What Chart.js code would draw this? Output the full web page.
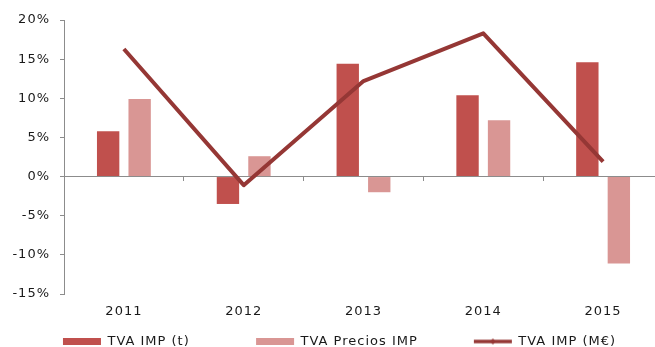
<!DOCTYPE html>
<html>
<head>
<meta charset="utf-8">
<script src="https://cdn.jsdelivr.net/npm/chart.js@4"></script>
<style>
    html, body { margin: 0; padding: 0; background: #fff; overflow: hidden; }
    #wrap { position: relative; width: 663px; height: 358px; }
</style>
</head>
<body>
<div id="wrap"><canvas id="impChart"></canvas></div>
<script>
// Years and rates (%)
const years = ['2011', '2012', '2013', '2014', '2015'];
const tvaImpT = [5.8, -3.5, 14.4, 10.4, 14.6];
const tvaPreciosImp = [9.9, 2.6, -2.0, 7.2, -11.1];
const tvaImpMe = [16.3, -1.1, 12.2, 18.3, 1.9];

const yMin = -15;
const yMax = 20;
const yStep = 5;

const darkRed = '#C0504D';
const lightRed = '#D99694';
const lineRed = '#953735';
const axisGrey = '#8c8c8c';

// trailing blanks widen each legend entry
const legendGaps = [10, 8, 0];
// legend sits a little right of the canvas centre
const legendShift = 8;

// small line + marker icon for the legend entry of the line series
function lineIcon() {
    const c = document.createElement('canvas');
    c.width = 40;
    c.height = 8;
    const g = c.getContext('2d');
    g.strokeStyle = lineRed;
    g.lineWidth = 3.5;
    g.beginPath();
    g.moveTo(1, 4);
    g.lineTo(39, 4);
    g.stroke();
    g.fillStyle = lineRed;
    g.beginPath();
    g.moveTo(20, 1);
    g.lineTo(23, 4);
    g.lineTo(20, 7);
    g.lineTo(17, 4);
    g.closePath();
    g.fill();
    return c;
}

// wider letter spacing, reset whenever the canvas is resized
const spacing = {
    id: 'spacing',
    beforeLayout(chart) { chart.ctx.letterSpacing = '1px'; },
    afterLayout(chart) {
        chart.legend.left += legendShift;
        chart.legend.right += legendShift;
    },
    beforeDraw(chart) { chart.ctx.letterSpacing = '1px'; }
};

Chart.defaults.font.family = '"DejaVu Sans", Verdana, sans-serif';
Chart.defaults.font.size = 13;
Chart.defaults.color = '#1a1a1a';

const icon = lineIcon();
const ctx = document.getElementById('impChart').getContext('2d');
const impChart = new Chart(ctx, {
    type: 'bar',
    data: {
        labels: years,
        datasets: [
            {
                label: 'TVA IMP (t)',
                data: tvaImpT,
                backgroundColor: darkRed,
                pointStyle: 'rect',
                categoryPercentage: 0.526,
                barPercentage: 0.71,
                order: 1
            },
            {
                label: 'TVA Precios IMP',
                data: tvaPreciosImp,
                backgroundColor: lightRed,
                pointStyle: 'rect',
                categoryPercentage: 0.526,
                barPercentage: 0.71,
                order: 1
            },
            {
                label: 'TVA IMP (M€)',
                data: tvaImpMe,
                type: 'line',
                borderColor: lineRed,
                backgroundColor: lineRed,
                borderWidth: 4,
                borderJoinStyle: 'round',
                tension: 0,
                pointRadius: 0,
                pointHoverRadius: 0,
                order: 0
            }
        ]
    },
    options: {
        responsive: true,
        maintainAspectRatio: false,
        animation: false,
        layout: {
            padding: { top: 20, right: 0, bottom: 0, left: 0 }
        },
        scales: {
            x: {
                position: 'bottom',
                afterFit(scale) { scale.height = 26; },
                grid: { display: false, drawTicks: false },
                border: { display: false },
                ticks: { padding: 10, maxRotation: 0 }
            },
            // zero line with tick marks between the years
            x0: {
                type: 'category',
                position: { y: 0 },
                offset: true,
                afterFit(scale) { scale.height = 0; },
                grid: {
                    offset: true,
                    drawOnChartArea: false,
                    drawTicks: true,
                    tickLength: 4,
                    color: axisGrey
                },
                border: { display: true, color: axisGrey, width: 1 },
                ticks: { display: false }
            },
            y: {
                min: yMin,
                max: yMax,
                afterFit(scale) { scale.width = 64; },
                ticks: {
                    stepSize: yStep,
                    padding: 10,
                    callback: v => v + '%'
                },
                grid: {
                    drawOnChartArea: false,
                    drawTicks: true,
                    tickLength: 4,
                    color: axisGrey
                },
                border: { display: true, color: axisGrey, width: 1 }
            }
        },
        plugins: {
            tooltip: { enabled: false },
            legend: {
                position: 'bottom',
                labels: {
                    usePointStyle: true,
                    pointStyleWidth: 38,
                    boxHeight: 7,
                    padding: 15,
                    sort: (a, b) => a.datasetIndex - b.datasetIndex,
                    generateLabels(chart) {
                        const items = Chart.defaults.plugins.legend.labels.generateLabels(chart);
                        items.forEach(item => {
                            if (item.datasetIndex === 2) {
                                item.pointStyle = icon;
                            } else {
                                item.pointStyle = 'rect';
                                item.lineWidth = 0;
                            }
                            item.text = item.text + ' '.repeat(legendGaps[item.datasetIndex]);
                        });
                        return items;
                    }
                }
            }
        }
    },
    plugins: [spacing]
});
</script>
</body>
</html>
